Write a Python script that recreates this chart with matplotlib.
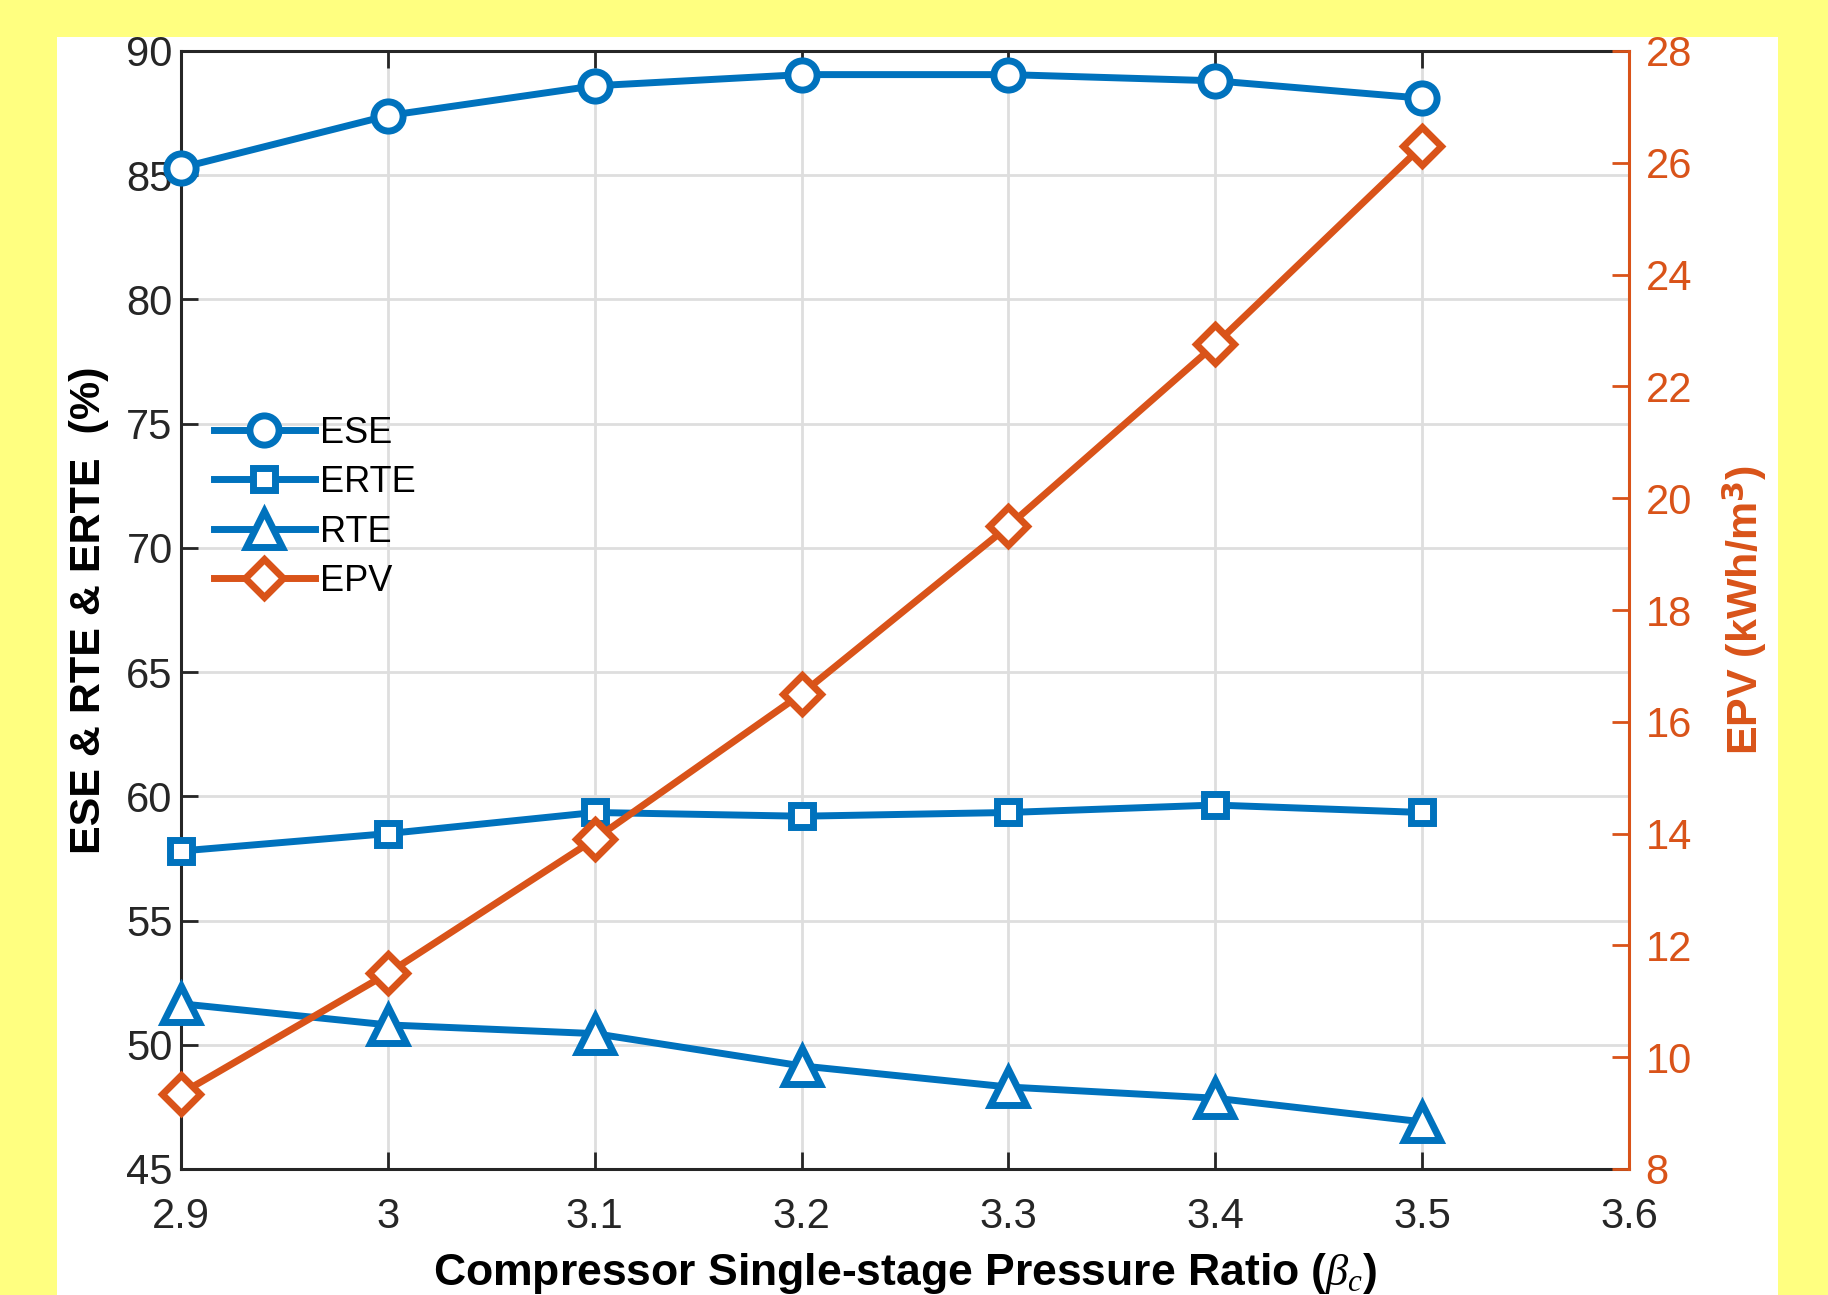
import matplotlib
matplotlib.use('Agg')
import matplotlib.pyplot as plt
from matplotlib.patches import Rectangle

plt.rcParams['font.family'] = ['Liberation Sans', 'DejaVu Sans']
plt.rcParams['mathtext.fontset'] = 'custom'
plt.rcParams['mathtext.it'] = 'Liberation Serif:italic'

ratio = [2.9, 3.0, 3.1, 3.2, 3.3, 3.4, 3.5]
ese = [85.3, 87.4, 88.6, 89.05, 89.05, 88.8, 88.1]
erte = [57.8, 58.5, 59.35, 59.2, 59.35, 59.65, 59.35]
rte = [51.65, 50.8, 50.45, 49.15, 48.3, 47.85, 46.9]
epv = [9.35, 11.5, 13.9, 16.5, 19.5, 22.75, 26.3]

blue = '#0072BD'
orange = '#D95319'
lw = 5
mew = 5

fig = plt.figure(figsize=(18.28, 12.95), dpi=100)
fig.patch.set_facecolor('#FFFF80')
# white panel behind the chart
fig.patches.append(Rectangle((57 / 1828, 0), (1778 - 57) / 1828, (1295 - 37) / 1295,
                             transform=fig.transFigure, facecolor='white', edgecolor='none', zorder=-10))

ax = fig.add_axes([181 / 1828, 126 / 1295, (1629 - 181) / 1828, (1169 - 51) / 1295])
ax2 = ax.twinx()

l1, = ax.plot(ratio, ese, '-o', color=blue, lw=lw, ms=21, mew=mew, mfc='white', label='ESE', clip_on=False, zorder=5)
l2, = ax.plot(ratio, erte, '-s', color=blue, lw=lw, ms=16, mew=mew, mfc='white', label='ERTE', clip_on=False, zorder=5)
l3, = ax.plot(ratio, rte, '-^', color=blue, lw=lw, ms=26, mew=mew, mfc='white', label='RTE', clip_on=False, zorder=5)
l4, = ax2.plot(ratio, epv, '-D', color=orange, lw=lw, ms=19, mew=mew, mfc='white', label='EPV', clip_on=False, zorder=5)

ax.set_xlim(2.9, 3.6)
ax.set_ylim(45, 90)
ax2.set_ylim(8, 28)
ax.set_xticks([2.9, 3.0, 3.1, 3.2, 3.3, 3.4, 3.5, 3.6])
ax.set_xticklabels(['2.9', '3', '3.1', '3.2', '3.3', '3.4', '3.5', '3.6'])
ax.set_yticks(range(45, 91, 5))
ax2.set_yticks(range(8, 29, 2))

ax.grid(True, color='#DEDEDE', lw=2)
ax.set_axisbelow(True)
ax.tick_params(axis='both', direction='in', length=12, width=2, labelsize=30, colors='#262626', top=True)
ax.tick_params(axis='x', pad=20)
ax.tick_params(axis='y', pad=6)
ax2.tick_params(axis='y', direction='in', length=12, width=2, labelsize=30, colors=orange, pad=12)

for s in ['left', 'bottom', 'top']:
    ax.spines[s].set_linewidth(2.2)
    ax.spines[s].set_color('#262626')
ax2.spines['right'].set_color(orange)
ax2.spines['right'].set_linewidth(2.2)
ax2.spines['left'].set_visible(False)
ax2.spines['top'].set_visible(False)
ax2.spines['bottom'].set_visible(False)

ax.set_ylabel('ESE & RTE & ERTE  (%)', fontsize=31, fontweight='bold', labelpad=12)
ax2.set_ylabel('EPV (kWh/m$^\\mathbf{3}$)', fontsize=31, fontweight='bold', color=orange, labelpad=20)
ax.set_xlabel('Compressor Single-stage Pressure Ratio ($\\beta_c$)', fontsize=32, fontweight='bold', labelpad=10)

ax.legend(handles=[l1, l2, l3, l4], loc='upper left', bbox_to_anchor=(0.010, 0.69), frameon=False,
          fontsize=26, handlelength=2.8, handletextpad=0.15, labelspacing=0.4, borderpad=0)

fig.savefig('out.png', dpi=100, facecolor=fig.get_facecolor())
